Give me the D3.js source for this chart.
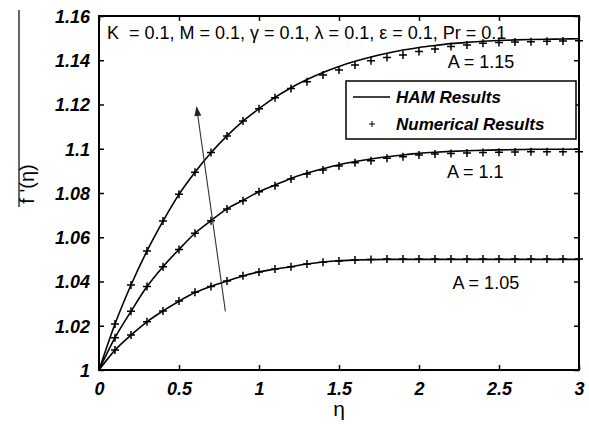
<!DOCTYPE html>
<html>
<head>
<meta charset="utf-8">
<script src="https://cdn.jsdelivr.net/npm/d3@7"></script>
<style>
  body { margin: 0; background: #fff; }
  text { font-family: "Liberation Sans", Arial, sans-serif; fill: #000; }
</style>
</head>
<body>
<svg id="chart" width="589" height="424"></svg>
<script>
var eta = [0, 0.1, 0.2, 0.3, 0.4, 0.5, 0.6, 0.7, 0.8, 0.9, 1.0,
  1.1, 1.2, 1.3, 1.4, 1.5, 1.6, 1.7, 1.8, 1.9, 2.0,
  2.1, 2.2, 2.3, 2.4, 2.5, 2.6, 2.7, 2.8, 2.9, 3.0];

// HAM results (solid lines)
var ham105 = [1, 1.0090, 1.0158, 1.0218, 1.0267, 1.0311, 1.0350, 1.0378, 1.0402, 1.0425, 1.0443,
  1.0456, 1.0467, 1.0479, 1.0488, 1.0494, 1.0497, 1.0499, 1.0500, 1.0500, 1.0500,
  1.0500, 1.0500, 1.0500, 1.0500, 1.0500, 1.0500, 1.0500, 1.0500, 1.0500, 1.0500];
var ham110 = [1, 1.0146, 1.0265, 1.0377, 1.0467, 1.0545, 1.0618, 1.0675, 1.0728, 1.0767, 1.0806,
  1.0836, 1.0866, 1.0890, 1.0910, 1.0928, 1.0942, 1.0954, 1.0964, 1.0972, 1.0979,
  1.0984, 1.0988, 1.0991, 1.0993, 1.0995, 1.0996, 1.0997, 1.0998, 1.0998, 1.0999];
var ham115 = [1, 1.0208, 1.0384, 1.0538, 1.0673, 1.0794, 1.0894, 1.0982, 1.1058, 1.1125, 1.1181,
  1.1232, 1.1276, 1.1313, 1.1345, 1.1372, 1.1395, 1.1415, 1.1432, 1.1446, 1.1458,
  1.1467, 1.1475, 1.1481, 1.1486, 1.1489, 1.1492, 1.1494, 1.1495, 1.1496, 1.1497];

// numerical results (+ markers)
var num105 = [1, 1.0090, 1.0158, 1.0218, 1.0267, 1.0312, 1.0351, 1.0377, 1.0402, 1.0426, 1.0443,
  1.0456, 1.0467, 1.0479, 1.0487, 1.0493, 1.0497, 1.0499, 1.0502, 1.0502, 1.0502,
  1.0502, 1.0502, 1.0502, 1.0502, 1.0502, 1.0502, 1.0502, 1.0502, 1.0502, 1.0502];
var num110 = [1, 1.0146, 1.0265, 1.0377, 1.0467, 1.0545, 1.0618, 1.0675, 1.0728, 1.0765, 1.0806,
  1.0833, 1.0863, 1.0886, 1.0904, 1.0922, 1.0937, 1.0946, 1.0957, 1.0964, 1.0972,
  1.0976, 1.0979, 1.0981, 1.0983, 1.0984, 1.0985, 1.0986, 1.0986, 1.0987, 1.0987];
var num115 = [1, 1.0208, 1.0384, 1.0538, 1.0673, 1.0794, 1.0894, 1.0983, 1.1058, 1.1125, 1.1181,
  1.1230, 1.1272, 1.1303, 1.1333, 1.1356, 1.1379, 1.1398, 1.1412, 1.1424, 1.1439,
  1.1451, 1.1462, 1.1469, 1.1477, 1.1480, 1.1482, 1.1484, 1.1486, 1.1487, 1.1488];

var xTicks = [0, 0.5, 1, 1.5, 2, 2.5, 3];
var xTickLabels = ["0", "0.5", "1", "1.5", "2", "2.5", "3"];
var yTicks = [1, 1.02, 1.04, 1.06, 1.08, 1.1, 1.12, 1.14, 1.16];
var yTickLabels = ["1", "1.02", "1.04", "1.06", "1.08", "1.1", "1.12", "1.14", "1.16"];

var curveLabels = ["A = 1.05", "A = 1.1", "A = 1.15"];
var curveLabelPos = [[2.21, 1.0366], [2.175, 1.0868], [2.18, 1.1365]];
var arrowFrom = [0.79, 1.0265];
var arrowTo = [0.61, 1.1188];

var title = "K  = 0.1, M = 0.1, \u03b3 = 0.1, \u03bb = 0.1, \u03b5 = 0.1, Pr = 0.1";

var plotLeft = 99, plotRight = 579, plotTop = 16, plotBottom = 370;

var svg = d3.select("#chart");

var x = d3.scaleLinear().domain([0, 3]).range([plotLeft, plotRight]);
var y = d3.scaleLinear().domain([1, 1.16]).range([plotBottom, plotTop]);

var tickFont = "bold italic 18px 'Liberation Sans', Arial, sans-serif";

// axes with inward ticks on all four sides
var xAxisB = d3.axisBottom(x).tickValues(xTicks).tickSize(-5).tickFormat(function(d, i){ return xTickLabels[i]; });
var xAxisT = d3.axisTop(x).tickValues(xTicks).tickSize(-5).tickFormat("");
var yAxisL = d3.axisLeft(y).tickValues(yTicks).tickSize(-5).tickFormat(function(d, i){ return yTickLabels[i]; });
var yAxisR = d3.axisRight(y).tickValues(yTicks).tickSize(-5).tickFormat("");

var gB = svg.append("g").attr("transform", "translate(0," + plotBottom + ")").call(xAxisB);
var gT = svg.append("g").attr("transform", "translate(0," + plotTop + ")").call(xAxisT);
var gL = svg.append("g").attr("transform", "translate(" + plotLeft + ",0)").call(yAxisL);
var gR = svg.append("g").attr("transform", "translate(" + plotRight + ",0)").call(yAxisR);

[gB, gT, gL, gR].forEach(function(g){
  g.select(".domain").remove();
  g.selectAll(".tick line").attr("stroke", "#000").attr("stroke-width", 1.5);
});
gB.selectAll(".tick text")
  .attr("y", 25)
  .attr("dy", 0)
  .style("font", tickFont);
gL.selectAll(".tick text")
  .attr("x", -9)
  .attr("dy", "0.35em")
  .style("font", tickFont);

svg.append("rect")
  .attr("x", plotLeft)
  .attr("y", plotTop)
  .attr("width", plotRight - plotLeft)
  .attr("height", plotBottom - plotTop)
  .attr("fill", "none")
  .attr("stroke", "#000")
  .attr("stroke-width", 2);

// HAM lines
var line = d3.line()
  .x(function(d, i){ return x(eta[i]); })
  .y(function(d){ return y(d); })
  .curve(d3.curveMonotoneX);

[ham105, ham110, ham115].forEach(function(s){
  svg.append("path")
    .attr("d", line(s))
    .attr("fill", "none")
    .attr("stroke", "#000")
    .attr("stroke-width", 1.6);
});

// numerical markers
function plus(g, cx, cy, r, w){
  g.append("path")
    .attr("d", "M" + (cx - r) + "," + cy + "H" + (cx + r) + "M" + cx + "," + (cy - r) + "V" + (cy + r))
    .attr("stroke", "#000")
    .attr("stroke-width", w)
    .attr("fill", "none");
}
var marks = svg.append("g");
[num105, num110, num115].forEach(function(s){
  s.forEach(function(v, i){
    if(i == 0) return;
    plus(marks, x(eta[i]), y(v), 4, 1.5);
  });
});

// curve labels
curveLabels.forEach(function(t, i){
  svg.append("text")
    .attr("x", x(curveLabelPos[i][0]))
    .attr("y", y(curveLabelPos[i][1]))
    .style("font-size", "18px")
    .text(t);
});

// parameter line
svg.append("text")
  .attr("x", 107)
  .attr("y", 39)
  .attr("xml:space", "preserve")
  .style("white-space", "pre")
  .style("font-size", "18px")
  .text(title);

// arrow
svg.append("defs").append("marker")
  .attr("id", "head")
  .attr("viewBox", "0 0 10 10")
  .attr("refX", 9)
  .attr("refY", 5)
  .attr("markerWidth", 10)
  .attr("markerHeight", 10)
  .attr("markerUnits", "userSpaceOnUse")
  .attr("orient", "auto")
  .append("path")
    .attr("d", "M0,1.5L10,5L0,8.5Z")
    .attr("fill", "#222");

svg.append("line")
  .attr("x1", x(arrowFrom[0]))
  .attr("y1", y(arrowFrom[1]))
  .attr("x2", x(arrowTo[0]))
  .attr("y2", y(arrowTo[1]))
  .attr("stroke", "#333")
  .attr("stroke-width", 1.1)
  .attr("marker-end", "url(#head)");

// legend
var legend = svg.append("g");
legend.append("rect")
  .attr("x", 346)
  .attr("y", 81)
  .attr("width", 230)
  .attr("height", 58)
  .attr("fill", "#fff")
  .attr("stroke", "#000")
  .attr("stroke-width", 1.5);
legend.append("line")
  .attr("x1", 353).attr("x2", 390)
  .attr("y1", 97).attr("y2", 97)
  .attr("stroke", "#000")
  .attr("stroke-width", 1.5);
plus(legend, 372, 124, 3, 1);
legend.append("text")
  .attr("x", 396)
  .attr("y", 103)
  .style("font", "bold italic 17px 'Liberation Sans', Arial, sans-serif")
  .text("HAM Results");
legend.append("text")
  .attr("x", 396)
  .attr("y", 130)
  .style("font", "bold italic 17px 'Liberation Sans', Arial, sans-serif")
  .text("Numerical Results");

// axis titles
svg.append("text")
  .attr("x", x(1.5))
  .attr("y", 416)
  .attr("text-anchor", "middle")
  .style("font-size", "21px")
  .text("\u03b7");

svg.append("line")
  .attr("x1", 19).attr("x2", 19)
  .attr("y1", 10).attr("y2", 207)
  .attr("stroke", "#000")
  .attr("stroke-width", 1.2);
svg.append("text")
  .attr("transform", "translate(34,184) rotate(-90)")
  .attr("text-anchor", "middle")
  .style("font-size", "20px")
  .text("f '(\u03b7)");
</script>
</body>
</html>
